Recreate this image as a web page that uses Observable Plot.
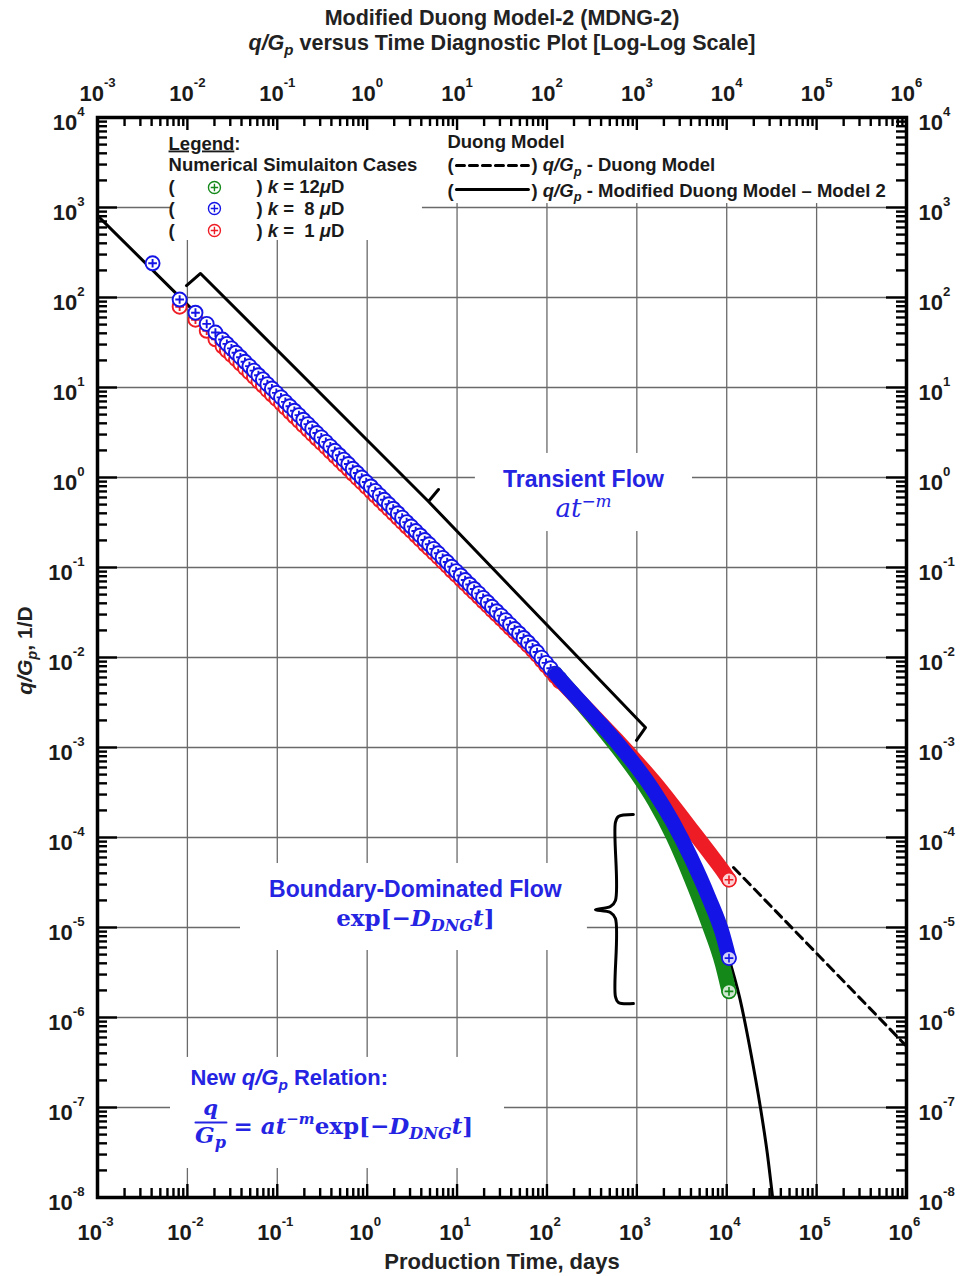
<!DOCTYPE html>
<html>
<head>
<meta charset="utf-8">
<script src="https://cdn.jsdelivr.net/npm/d3@7"></script>
<script src="https://cdn.jsdelivr.net/npm/@observablehq/plot@0.6"></script>
<style>
  html, body { margin: 0; padding: 0; background: #ffffff; overflow: hidden; }
  svg { display: block; }
</style>
</head>
<body>
<div id="chart"></div>
<script>
// ---------------- DATA ----------------
// Axis decades and tick labels
const xExp = [-3, -2, -1, 0, 1, 2, 3, 4, 5, 6];
const yExp = [-8, -7, -6, -5, -4, -3, -2, -1, 0, 1, 2, 3, 4];
const minorMult = [2, 3, 4, 5, 6, 7, 8, 9];
const xTickLabels = xExp.map(e => "10`{" + e + "}");
const yTickLabels = yExp.map(e => "10`{" + e + "}");

// Simulation output times shown as individual circles (days)
const circleTimes = [0.0041, 0.0082, 0.0123, 0.0164, 0.0205, 0.0246,
  0.0275, 0.0309, 0.0347, 0.0389, 0.0437, 0.0490, 0.0550, 0.0617, 0.0692, 0.0776,
  0.0871, 0.0977, 0.110, 0.123, 0.138, 0.155, 0.174, 0.195, 0.219, 0.245,
  0.275, 0.309, 0.347, 0.389, 0.437, 0.490, 0.550, 0.617, 0.692, 0.776,
  0.871, 0.977, 1.10, 1.23, 1.38, 1.55, 1.74, 1.95, 2.19, 2.45,
  2.75, 3.09, 3.47, 3.89, 4.37, 4.90, 5.50, 6.17, 6.92, 7.76,
  8.71, 9.77, 11.0, 12.3, 13.8, 15.5, 17.4, 19.5, 21.9, 24.5,
  27.5, 30.9, 34.7, 38.9, 43.7, 49.0, 55.0, 61.7, 69.2, 77.6,
  87.1, 97.7, 110, 123, 138];
// q/Gp, 1/D  -- k = 8 uD (blue)
const blueCircles = [240, 95, 67.8, 50.9, 40.8, 34.1,
  30.5, 27.2, 24.3, 21.7, 19.3, 17.3, 15.4, 13.7, 12.3, 10.9,
  9.76, 8.71, 7.77, 6.93, 6.19, 5.52, 4.93, 4.39, 3.92, 3.50,
  3.12, 2.79, 2.49, 2.22, 1.98, 1.77, 1.58, 1.41, 1.25, 1.12,
  0.999, 0.891, 0.795, 0.710, 0.633, 0.565, 0.504, 0.450, 0.401, 0.358,
  0.319, 0.285, 0.254, 0.227, 0.202, 0.181, 0.161, 0.144, 0.128, 0.115,
  0.102, 0.0912, 0.0814, 0.0726, 0.0648, 0.0578, 0.0516, 0.0460, 0.0411, 0.0366,
  0.0327, 0.0292, 0.0260, 0.0232, 0.0207, 0.0185, 0.0165, 0.0147, 0.0130, 0.0115,
  0.00998, 0.00871, 0.00759, 0.00662, 0.00583];
// q/Gp, 1/D  -- k = 1 uD (red)
const redCircles = [null, 79, 56.6, 42.7, 34.3, 28.7,
  25.7, 23.0, 20.6, 18.4, 16.4, 14.7, 13.1, 11.7, 10.5, 9.32,
  8.35, 7.46, 6.67, 5.96, 5.33, 4.76, 4.25, 3.79, 3.39, 3.03,
  2.71, 2.42, 2.17, 1.94, 1.73, 1.55, 1.38, 1.24, 1.10, 0.984,
  0.880, 0.786, 0.702, 0.628, 0.561, 0.501, 0.448, 0.400, 0.357, 0.319,
  0.285, 0.255, 0.228, 0.204, 0.181, 0.163, 0.145, 0.130, 0.116, 0.104,
  0.0924, 0.0827, 0.0740, 0.0661, 0.0590, 0.0528, 0.0472, 0.0421, 0.0377, 0.0336,
  0.0301, 0.0269, 0.0240, 0.0214, 0.0191, 0.0171, 0.0153, 0.0136, 0.0121, 0.0107,
  0.00930, 0.00813, 0.00710, 0.00620, 0.00546];

// Late-time dense part (symbols merge into a solid band)
const bandTimes = [126, 158, 251, 398, 631, 1000, 1585, 2512, 3981, 6310, 8913, 10600];
const greenBand = [0.00646, 0.00501, 0.00295, 0.00170, 0.000955, 0.000513, 0.000251, 0.000105, 3.63e-5, 1.10e-5, 3.98e-6, 1.95e-6];
const blueBand  = [0.00646, 0.00501, 0.00302, 0.00182, 0.00107, 0.000603, 0.000316, 0.000148, 6.03e-5, 2.14e-5, 8.71e-6, 4.57e-6];
const redBand   = [0.00617, 0.00490, 0.00302, 0.00186, 0.00115, 0.000692, 0.000407, 0.000229, 0.000126, 6.92e-5, 4.37e-5, 3.39e-5];

// Last simulated points
const endTime = [10600];
const endGreen = [1.95e-6];
const endBlue = [4.57e-6];
const endRed = [3.39e-5];

// Modified Duong Model - Model 2 (solid black)
const modelTimes = [0.001, 0.01, 0.1, 1, 10, 63.1, 126, 158, 251, 398, 631, 1000, 1585, 2512, 3981,
  6310, 8913, 10600, 14100, 18200, 23700, 28200, 32400, 35500];
const modelValues = [813, 83.2, 8.51, 0.871, 0.0891, 0.0144, 0.00646, 0.00501, 0.00302, 0.00182, 0.00107,
  0.000603, 0.000316, 0.000148, 6.03e-5, 2.14e-5, 8.71e-6, 4.57e-6, 1.58e-6, 4.47e-7, 1.0e-7, 3.16e-8, 1.0e-8, 4.47e-9];

// Duong Model (dashed black)
const duongTimes = [11900, 1e6];
const duongValues = [4.64e-5, 4.8e-7];

// Text
const titleLines = ["Modified Duong Model-2 (MDNG-2)", "*q/G*_{*p*} versus Time Diagnostic Plot [Log-Log Scale]"];
const xLabel = "Production Time, days";
const yLabel = "*q/G*_{*p*}, 1/D";
const legendHead = ["~Legend~:", "Numerical Simulaiton Cases"];
const caseLabels = [") *k* = 12*μ*D", ") *k* =\u00a0\u00a08 *μ*D", ") *k* =\u00a0\u00a01 *μ*D"];
const duongHead = "Duong Model";
const duongLabels = [") *q/G*_{*p*} - Duong Model", ") *q/G*_{*p*} - Modified Duong Model \u2013 Model 2"];

// ---------------- LAYOUT / STYLE ----------------
const SANS = "'Liberation Sans', Arial, Helvetica, sans-serif";
const SERIF = "'DejaVu Serif', 'Liberation Serif', serif";
const BLUE_TXT = "#2424e2";
const C_BLUE = "#1414e6", C_RED = "#ee1c24", C_GREEN = "#14891a";
const ML = 97, MR = 55, MT = 117, MB = 79, WIDTH = 961, HEIGHT = 1276;
const PW = WIDTH - ML - MR, PH = HEIGHT - MT - MB;

const xMajor = xExp.map(e => 10 ** e);
const yMajor = yExp.map(e => 10 ** e);
const xMinor = xExp.slice(0, -1).flatMap(e => minorMult.map(m => m * 10 ** e));
const yMinor = yExp.slice(0, -1).flatMap(e => minorMult.map(m => m * 10 ** e));

const rows = (ts, vs) => ts.map((t, i) => ({t, v: vs[i]})).filter(d => d.v != null);

// circle with a plus inside
const circlePlus = {
  draw(ctx, size) {
    const r = Math.sqrt(size / Math.PI), p = r * 0.62;
    ctx.moveTo(r, 0);
    ctx.arc(0, 0, r, 0, 2 * Math.PI);
    ctx.moveTo(-p, 0); ctx.lineTo(p, 0);
    ctx.moveTo(0, -p); ctx.lineTo(0, p);
  }
};

// annotation boxes (white, hide the grid), in data units
const boxes = [
  {x1: 0.0065, x2: 4.12, y1: 430, y2: 1e4},
  {x1: 4.45, x2: 1e6, y1: 1107, y2: 1e4},
  {x1: 16.0, x2: 4160, y1: 0.251, y2: 1.85},
  {x1: 0.039, x2: 282, y1: 5.55e-6, y2: 5.14e-5},
  {x1: 0.00649, x2: 33.7, y1: 2.1e-8, y2: 3.6e-7}
];
const transientBracket = rows([0.00977, 0.0140, 4.81, 6.21, 4.81, 1247, 991],
                              [135.8, 185, 0.541, 0.736, 0.541, 0.001667, 0.0012]);
const bdfBracket = rows([916, 624, 578, 578, 508, 346, 508, 578, 578, 624, 916],
                        [1.80e-4, 1.71e-4, 1.47e-4, 2.0e-5, 1.71e-5, 1.58e-5, 1.47e-5, 1.26e-5, 1.71e-6, 1.47e-6, 1.43e-6]);

function label(text, t, v, o) {
  return Plot.text([{t, v, text}], {x: "t", y: "v", text: "text", lineAnchor: "bottom",
    fontFamily: SANS, fontWeight: "bold", fill: "#111", textAnchor: "start", ...o});
}
const legendFont = {fontSize: 18.5, fill: "#1a1a1a"};
const caseBase = [1431, 835, 476], caseMid = [1668, 975, 555];
const caseColors = [C_GREEN, C_BLUE, C_RED];

const tickStyle = {stroke: "black", strokeWidth: 2.4};
const bandStyle = {x: "t", y: "v", strokeWidth: 15, strokeLinecap: "round", strokeLinejoin: "round", curve: "monotone-x"};
const symStyle = {x: "t", y: "v", r: 7, symbol: circlePlus, fill: "white", strokeWidth: 1.9};

const marks = [
  // grid
  Plot.ruleX(xMajor.slice(1, -1), {stroke: "#6a6a6a", strokeWidth: 1.3}),
  Plot.ruleY(yMajor.slice(1, -1), {stroke: "#6a6a6a", strokeWidth: 1.3}),
  // white annotation boxes
  Plot.rect(boxes, {x1: "x1", x2: "x2", y1: "y1", y2: "y2", fill: "white"}),
  // models
  Plot.line(rows(modelTimes, modelValues), {x: "t", y: "v", stroke: "black", strokeWidth: 3, curve: "monotone-x", clip: true}),
  Plot.line(rows(duongTimes, duongValues), {x: "t", y: "v", stroke: "black", strokeWidth: 3, strokeDasharray: "9,6", clip: true}),
  // simulation symbols
  Plot.dot(rows(circleTimes, redCircles), {...symStyle, stroke: C_RED}),
  Plot.dot(rows(circleTimes, blueCircles), {...symStyle, stroke: C_BLUE}),
  Plot.line(rows(bandTimes, greenBand), {...bandStyle, stroke: C_GREEN}),
  Plot.line(rows(bandTimes, redBand), {...bandStyle, stroke: C_RED}),
  Plot.line(rows(bandTimes, blueBand), {...bandStyle, stroke: C_BLUE}),
  Plot.dot(rows(endTime, endGreen), {...symStyle, stroke: C_GREEN, fillOpacity: 0.8, strokeWidth: 1.6}),
  Plot.dot(rows(endTime, endBlue), {...symStyle, stroke: C_BLUE, fillOpacity: 0.8, strokeWidth: 1.6}),
  Plot.dot(rows(endTime, endRed), {...symStyle, stroke: C_RED, fillOpacity: 0.8, strokeWidth: 1.6}),
  // brackets
  Plot.line(transientBracket, {x: "t", y: "v", stroke: "black", strokeWidth: 3, strokeLinejoin: "round"}),
  Plot.line(bdfBracket, {x: "t", y: "v", stroke: "black", strokeWidth: 3, strokeLinejoin: "round", curve: "catmull-rom"}),
  // legend samples
  ...caseMid.map((v, i) => Plot.dot([{t: 0.020, v}], {x: "t", y: "v", r: 6, symbol: circlePlus, stroke: caseColors[i], fill: "white", strokeWidth: 1.4})),
  Plot.line([{t: 9.85, v: 2930}, {t: 62.2, v: 2930}], {x: "t", y: "v", stroke: "black", strokeWidth: 3, strokeDasharray: "8,5"}),
  Plot.line([{t: 9.85, v: 1585}, {t: 62.2, v: 1585}], {x: "t", y: "v", stroke: "black", strokeWidth: 3}),
  // frame and ticks
  Plot.frame({stroke: "black", strokeWidth: 3.5}),
  Plot.ruleY(yMajor, {...tickStyle, insetRight: PW - 20}),
  Plot.ruleY(yMinor, {...tickStyle, insetRight: PW - 10}),
  Plot.ruleY(yMajor, {...tickStyle, insetLeft: PW - 20}),
  Plot.ruleY(yMinor, {...tickStyle, insetLeft: PW - 10}),
  Plot.ruleX(xMajor, {...tickStyle, insetTop: PH - 13}),
  Plot.ruleX(xMinor, {...tickStyle, insetTop: PH - 9}),
  Plot.ruleX(xMajor, {...tickStyle, insetBottom: PH - 13}),
  Plot.ruleX(xMinor, {...tickStyle, insetBottom: PH - 9}),
  // tick labels
  Plot.text(xMajor, {x: d => d, text: (d, i) => xTickLabels[i], frameAnchor: "bottom", textAnchor: "middle", lineAnchor: "bottom", dx: -2, dy: 42, fontSize: 22, fontWeight: "bold", fontFamily: SANS, fill: "#1a1a1a"}),
  Plot.text(xMajor, {x: d => d, text: (d, i) => xTickLabels[i], frameAnchor: "top", textAnchor: "middle", lineAnchor: "bottom", dy: -17, fontSize: 22, fontWeight: "bold", fontFamily: SANS, fill: "#1a1a1a"}),
  Plot.text(yMajor, {y: d => d, text: (d, i) => yTickLabels[i], frameAnchor: "left", textAnchor: "end", lineAnchor: "bottom", dx: -13, dy: 12, fontSize: 22, fontWeight: "bold", fontFamily: SANS, fill: "#1a1a1a"}),
  Plot.text(yMajor, {y: d => d, text: (d, i) => yTickLabels[i], frameAnchor: "right", textAnchor: "start", lineAnchor: "bottom", dx: 12, dy: 12, fontSize: 22, fontWeight: "bold", fontFamily: SANS, fill: "#1a1a1a"}),
  // titles and axis labels
  Plot.text([titleLines[0]], {text: d => d, frameAnchor: "top", textAnchor: "middle", lineAnchor: "bottom", dy: -93, fontSize: 21.5, fontWeight: "bold", fontFamily: SANS, fill: "#222"}),
  Plot.text([titleLines[1]], {text: d => d, frameAnchor: "top", textAnchor: "middle", lineAnchor: "bottom", dy: -68, fontSize: 21.5, fontWeight: "bold", fontFamily: SANS, fill: "#222"}),
  Plot.text([xLabel], {text: d => d, frameAnchor: "bottom", textAnchor: "middle", lineAnchor: "bottom", dy: 71, fontSize: 22, fontWeight: "bold", fontFamily: SANS, fill: "#222"}),
  Plot.text([yLabel], {text: d => d, frameAnchor: "left", textAnchor: "middle", rotate: -90, lineAnchor: "middle", dx: -72, dy: -7, fontSize: 21, fontWeight: "bold", fontFamily: SANS, fill: "#222"}),
  // legend (simulation cases)
  label(legendHead[0], 0.00617, 4410, legendFont),
  label(legendHead[1], 0.00617, 2512, legendFont),
  ...caseBase.map((v) => label("(", 0.00617, v, legendFont)),
  ...caseBase.map((v, i) => label(caseLabels[i], 0.0587, v, legendFont)),
  // legend (models)
  label(duongHead, 7.81, 4640, legendFont),
  label("(", 7.81, 2512, legendFont),
  label(duongLabels[0], 67.3, 2512, legendFont),
  label("(", 7.81, 1324, legendFont),
  label(duongLabels[1], 67.3, 1324, legendFont),
  // annotations
  label("Transient Flow", 255, 0.794, {textAnchor: "middle", fontSize: 23, fill: BLUE_TXT}),
  label("*at*^{\u2212*m*}", 255, 0.36, {textAnchor: "middle", fontSize: 26, fontWeight: "normal", fontFamily: SERIF, fill: BLUE_TXT}),
  label("Boundary-Dominated Flow", 3.44, 2.21e-5, {textAnchor: "middle", fontSize: 23, fill: BLUE_TXT}),
  label("exp[\u2212*D*_{*DNG*}*t*]", 3.44, 1.05e-5, {textAnchor: "middle", fontSize: 23, fontFamily: SERIF, fill: BLUE_TXT}),
  label("New *q/G*_{*p*} Relation:", 0.0108, 1.80e-7, {fontSize: 22, fill: BLUE_TXT}),
  label("*q*", 0.0181, 8.36e-8, {textAnchor: "middle", fontSize: 21, fontFamily: SERIF, fill: BLUE_TXT}),
  Plot.line([{t: 0.0123, v: 6.8e-8}, {t: 0.0272, v: 6.8e-8}], {x: "t", y: "v", stroke: BLUE_TXT, strokeWidth: 2}),
  label("*G*_{*p*}", 0.0181, 4.08e-8, {textAnchor: "middle", fontSize: 23, fontFamily: SERIF, fill: BLUE_TXT}),
  label("= *at*^{\u2212*m*}exp[\u2212*D*_{*DNG*}*t*]", 0.0326, 5.14e-8, {fontSize: 23, fontFamily: SERIF, fill: BLUE_TXT})
];

const svg = Plot.plot({
  width: WIDTH, height: HEIGHT,
  marginLeft: ML, marginRight: MR, marginTop: MT, marginBottom: MB,
  x: {type: "log", domain: [1e-3, 1e6], axis: null},
  y: {type: "log", domain: [1e-8, 1e4], axis: null},
  style: {background: "white", fontFamily: SANS},
  marks
});
document.getElementById("chart").appendChild(svg);

// mini markup: *..* italic, ~..~ underline, ^{..} sup, _{..} sub, `{..} tick exponent
function richify(root) {
  const NS = "http://www.w3.org/2000/svg";
  root.querySelectorAll("text").forEach(t => {
    const s = t.textContent;
    if (!/[\^_`*~]/.test(s)) return;
    const fs = parseFloat(getComputedStyle(t).fontSize) || 16;
    const modes = {
      sup: {size: 0.65, shift: -0.42},
      hsup: {size: 0.6, shift: -0.6},
      sub: {size: 0.7, shift: 0.24}
    };
    while (t.firstChild) t.removeChild(t.firstChild);
    let italic = false, under = false, mode = null, buf = "", cur = 0;
    const flush = () => {
      if (!buf) return;
      const ts = document.createElementNS(NS, "tspan");
      ts.textContent = buf;
      if (italic) ts.setAttribute("font-style", "italic");
      if (under) ts.setAttribute("text-decoration", "underline");
      const target = mode ? modes[mode].shift * fs : 0;
      if (mode) ts.setAttribute("font-size", (modes[mode].size * fs).toFixed(2));
      if (target !== cur) { ts.setAttribute("dy", (target - cur).toFixed(2)); cur = target; }
      t.appendChild(ts);
      buf = "";
    };
    for (let i = 0; i < s.length; i++) {
      const c = s[i];
      if ((c === "^" || c === "_" || c === "`") && s[i + 1] === "{") {
        flush(); mode = c === "^" ? "sup" : c === "_" ? "sub" : "hsup"; i++;
      } else if (c === "}" && mode) {
        flush(); mode = null;
      } else if (c === "*") {
        flush(); italic = !italic;
      } else if (c === "~") {
        flush(); under = !under;
      } else buf += c;
    }
    flush();
  });
}
richify(svg);
</script>
</body>
</html>
